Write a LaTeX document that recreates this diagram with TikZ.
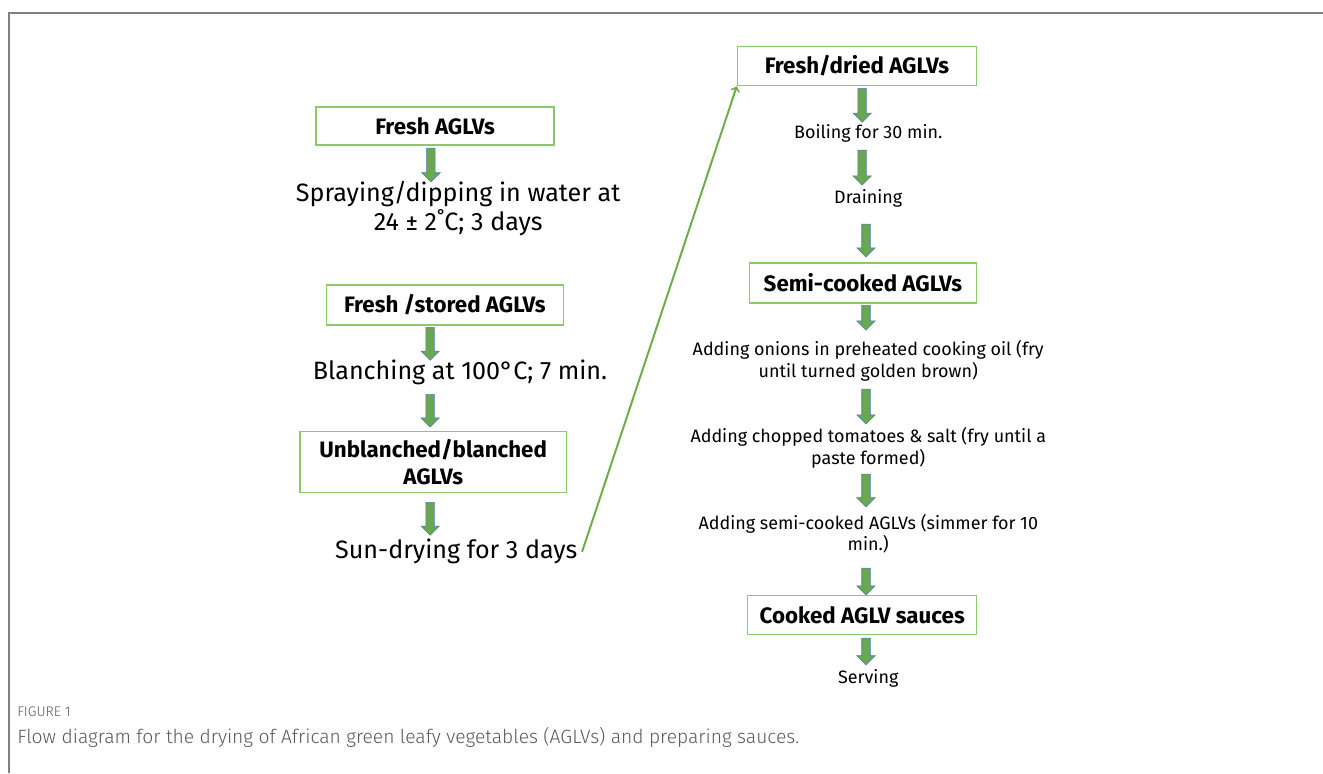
\documentclass[tikz,border=0pt]{standalone}
\usepackage{fontspec}
\setmainfont{Fira Sans}
\usepackage{tikz}
\usetikzlibrary{arrows,shapes.arrows}
\definecolor{boxgreen}{HTML}{8CC96A}
\definecolor{arrowgreen}{HTML}{6AA84F}
\definecolor{arrowblue}{HTML}{4A7EBB}
\definecolor{linegreen}{HTML}{70AD47}
\definecolor{framegray}{HTML}{808080}
\definecolor{capgray}{HTML}{595959}
\IfFontExistsTF{Fira Sans Light}{\newfontfamily\capfont{Fira Sans Light}}{\newfontfamily\capfont{Fira Sans}}

\begin{document}
\begin{tikzpicture}[every node/.style={align=center},
	box/.style={draw=boxgreen,line width=1.1pt,inner sep=0pt,font=\fontsize{16.8}{20}\selectfont\bfseries},
	bigstep/.style={font=\fontsize{18.9}{21.75}\selectfont},
	smallstep/.style={font=\fontsize{13.5}{16.5}\selectfont},
	blockarrow/.style={single arrow,rotate=-90,draw=arrowblue,fill=arrowgreen,line width=0.4pt,inner sep=3pt,minimum width=13.5pt,single arrow head extend=3.75pt,single arrow head indent=0pt}]
	\useasboundingbox (0,0) rectangle (35.0,-20.45);
	\draw[framegray,line width=1.5pt] (35.0,-0.344) -- (0.238,-0.344) -- (0.238,-20.45);

	\node (fresh) at (11.51,-3.33) [box,minimum width=6.30cm,minimum height=1.01cm] {Fresh AGLVs};
	\node (a1) at (11.40,-4.31) [blockarrow,minimum height=25.5pt] {};
	\node (spray) at (12.12,-5.52) [bigstep] {Spraying/dipping in water at\\24 ± 2˚C; 3 days};
	\node (stored) at (11.77,-8.07) [box,minimum width=6.27cm,minimum height=1.06cm] {Fresh /stored AGLVs};
	\node (a2) at (11.38,-9.04) [blockarrow,minimum height=24.75pt] {};
	\node (blanch) at (12.17,-9.84) [bigstep] {Blanching at 100°C; 7 min.};
	\node (a3) at (11.38,-10.81) [blockarrow,minimum height=24.75pt] {};
	\node (unbl) at (11.46,-12.22) [box,minimum width=7.04cm,minimum height=1.61cm] {Unblanched/blanched\\AGLVs};
	\node (a4) at (11.38,-13.67) [blockarrow,minimum height=24.75pt] {};
	\node (sun) at (12.07,-14.60) [bigstep] {Sun-drying for 3 days};

	\node (dried) at (22.67,-1.75) [box,minimum width=6.32cm,minimum height=1.03cm] {Fresh/dried AGLVs};
	\node (b1) at (22.81,-2.73) [blockarrow,minimum height=25.5pt] {};
	\node (boil) at (22.97,-3.52) [smallstep] {Boiling for 30 min.};
	\node (b2) at (22.81,-4.38) [blockarrow,minimum height=26.25pt] {};
	\node (drain) at (22.97,-5.24) [smallstep] {Draining};
	\node (b3) at (22.91,-6.31) [blockarrow,minimum height=24.75pt] {};
	\node (semi) at (22.83,-7.49) [box,minimum width=6.01cm,minimum height=1.06cm] {Semi-cooked AGLVs};
	\node (b4) at (22.91,-8.35) [blockarrow,minimum height=18.75pt] {};
	\node (onion) at (22.97,-9.55) [smallstep] {Adding onions in preheated cooking oil (fry\\until turned golden brown)};
	\node (b5) at (22.91,-10.70) [blockarrow,minimum height=26.25pt] {};
	\node (tomato) at (22.97,-11.85) [smallstep] {Adding chopped tomatoes \& salt (fry until a\\paste formed)};
	\node (b6) at (22.91,-12.92) [blockarrow,minimum height=24.75pt] {};
	\node (simmer) at (22.97,-14.12) [smallstep] {Adding semi-cooked AGLVs (simmer for 10\\min.)};
	\node (b7) at (22.91,-15.33) [blockarrow,minimum height=20.25pt] {};
	\node (cooked) at (22.81,-16.27) [box,minimum width=6.06cm,minimum height=1.03cm] {Cooked AGLV sauces};
	\node (b8) at (22.91,-17.18) [blockarrow,minimum height=20.25pt] {};
	\node (serve) at (22.97,-17.94) [smallstep] {Serving};

	\draw[linegreen,line width=1.5pt,->] (sun.east) -- (dried.south west);

	\node (figlabel) at (0.45,-18.84) [anchor=west,inner sep=0pt,text=capgray,font=\capfont\fontsize{10.5}{12}\selectfont] {FIGURE 1};
	\node (caption) at (0.45,-19.50) [anchor=west,inner sep=0pt,text=capgray,font=\capfont\fontsize{14.5}{17}\selectfont] {Flow diagram for the drying of African green leafy vegetables (AGLVs) and preparing sauces.};
\end{tikzpicture}
\end{document}
